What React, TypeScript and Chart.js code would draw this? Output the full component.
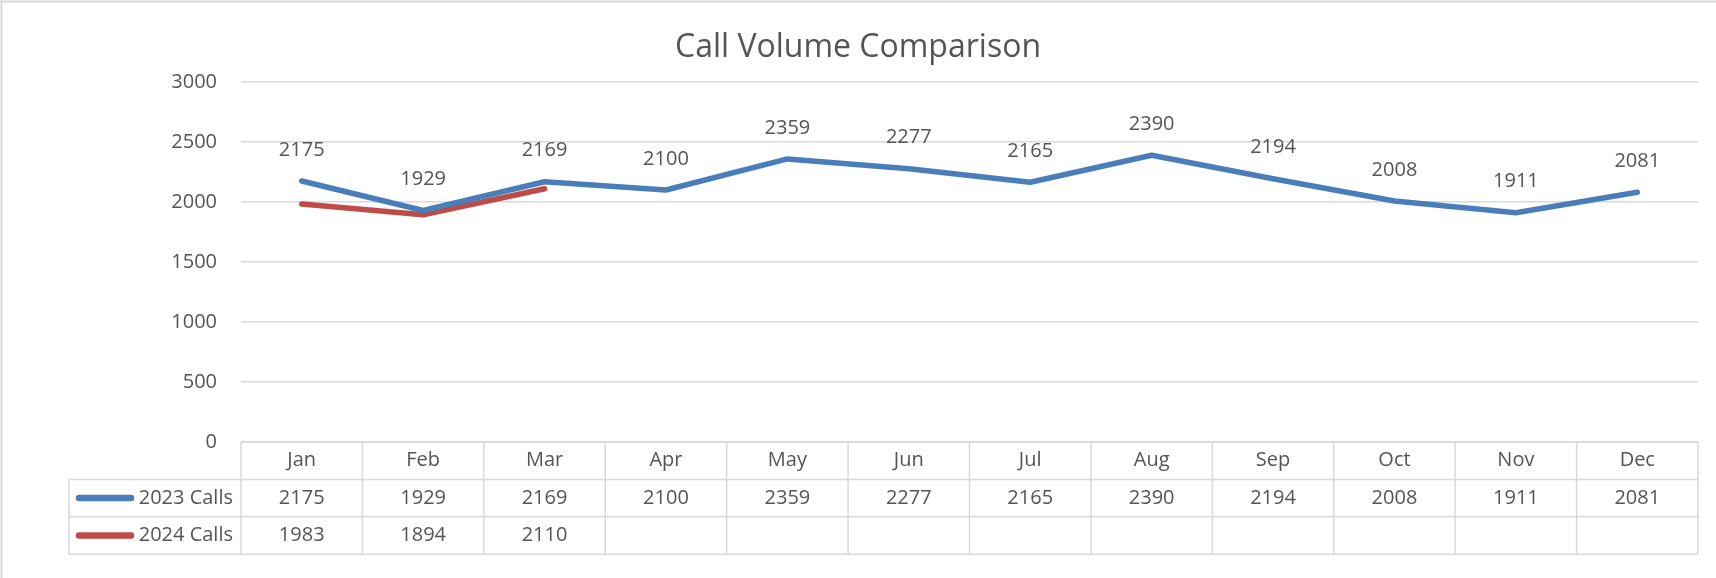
import React, { useEffect, useRef } from "react";
import { Chart, registerables } from "chart.js";

Chart.register(...registerables);

const months = ["Jan", "Feb", "Mar", "Apr", "May", "Jun", "Jul", "Aug", "Sep", "Oct", "Nov", "Dec"];
const calls2023 = [2175, 1929, 2169, 2100, 2359, 2277, 2165, 2390, 2194, 2008, 1911, 2081];
const calls2024 = [1983, 1894, 2110];
const seriesNames = ["2023 Calls", "2024 Calls"];
const yTicks = [0, 500, 1000, 1500, 2000, 2500, 3000];
const chartTitle = "Call Volume Comparison";

const BLUE = "#4A7EBB";
const RED = "#BE4B48";
const TEXT = "#555555";
const GRID = "#D9D9D9";
const FONT = "'Open Sans', 'Noto Sans', sans-serif";

export default function App() {
  const ref = useRef<HTMLCanvasElement | null>(null);

  useEffect(() => {
    document.body.style.margin = "0";
    const canvas = ref.current!;
    const W = 1716;
    const H = 578;

    const rowH = 37.4;
    const legendLeft = 69;

    const tablePlugin = {
      id: "tablePlugin",
      afterDraw(chart: any) {
        const ctx = chart.ctx as CanvasRenderingContext2D;
        const x = chart.scales.x;
        const area = chart.chartArea;
        const top = area.bottom;
        const n = months.length;
        const half = (x.getPixelForValue(1) - x.getPixelForValue(0)) / 2;
        const edges: number[] = [];
        for (let i = 0; i < n; i++) edges.push(x.getPixelForValue(i) - half);
        edges.push(x.getPixelForValue(n - 1) + half);
        const bottom = top + rowH * 3;

        ctx.save();
        // outer frame (top + left)
        ctx.strokeStyle = GRID;
        ctx.lineWidth = 2;
        ctx.beginPath();
        ctx.moveTo(0, 1.5);
        ctx.lineTo(W, 1.5);
        ctx.moveTo(1.5, 0);
        ctx.lineTo(1.5, H);
        ctx.stroke();

        ctx.lineWidth = 1.5;
        ctx.beginPath();
        ctx.moveTo(edges[0], top);
        ctx.lineTo(edges[n], top);
        for (let r = 1; r <= 3; r++) {
          const y = top + rowH * r;
          ctx.moveTo(legendLeft, y);
          ctx.lineTo(edges[n], y);
        }
        ctx.moveTo(legendLeft, top + rowH);
        ctx.lineTo(legendLeft, bottom);
        for (let i = 0; i <= n; i++) {
          ctx.moveTo(edges[i], top);
          ctx.lineTo(edges[i], bottom);
        }
        ctx.stroke();

        ctx.fillStyle = TEXT;
        ctx.font = `20px ${FONT}`;
        ctx.textAlign = "center";
        ctx.textBaseline = "middle";
        for (let i = 0; i < n; i++) {
          const cx = x.getPixelForValue(i);
          ctx.fillText(months[i], cx, top + rowH * 0.5);
          if (calls2023[i] !== undefined) ctx.fillText(String(calls2023[i]), cx, top + rowH * 1.5);
          if (calls2024[i] !== undefined) ctx.fillText(String(calls2024[i]), cx, top + rowH * 2.5);
        }
        const colors = [BLUE, RED];
        ctx.textAlign = "right";
        for (let s = 0; s < 2; s++) {
          const cy = top + rowH * (1.5 + s);
          ctx.strokeStyle = colors[s];
          ctx.lineWidth = 6.5;
          ctx.lineCap = "round";
          ctx.beginPath();
          ctx.moveTo(79, cy);
          ctx.lineTo(131, cy);
          ctx.stroke();
          ctx.fillText(seriesNames[s], edges[0] - 8, cy);
        }

        ctx.font = `32px ${FONT}`;
        ctx.textAlign = "center";
        ctx.textBaseline = "alphabetic";
        ctx.fillText(chartTitle, W / 2, 57);
        ctx.restore();
      },
    };

    const labelPlugin = {
      id: "labelPlugin",
      afterDatasetsDraw(chart: any) {
        const ctx = chart.ctx as CanvasRenderingContext2D;
        const meta = chart.getDatasetMeta(0);
        ctx.save();
        ctx.fillStyle = TEXT;
        ctx.font = `20px ${FONT}`;
        ctx.textAlign = "center";
        ctx.textBaseline = "middle";
        meta.data.forEach((pt: any, i: number) => {
          ctx.fillText(String(calls2023[i]), pt.x, pt.y - 31);
        });
        ctx.restore();
      },
    };

    const chart = new Chart(canvas, {
      type: "line",
      data: {
        labels: months,
        datasets: [
          {
            label: seriesNames[0],
            data: calls2023,
            borderColor: BLUE,
            backgroundColor: BLUE,
            borderWidth: 5.5,
            pointRadius: 0,
            tension: 0,
            borderCapStyle: "round",
            borderJoinStyle: "round",
          },
          {
            label: seriesNames[1],
            data: calls2024,
            borderColor: RED,
            backgroundColor: RED,
            borderWidth: 5.5,
            pointRadius: 0,
            tension: 0,
            borderCapStyle: "round",
            borderJoinStyle: "round",
          },
        ],
      },
      options: {
        responsive: false,
        animation: false,
        devicePixelRatio: 1,
        layout: { padding: { left: 0, right: 18, top: 82, bottom: H - 442 } },
        plugins: {
          legend: { display: false },
          title: { display: false },
          tooltip: { enabled: false },
        },
        scales: {
          x: {
            type: "category",
            display: false,
            offset: true,
          },
          y: {
            min: yTicks[0],
            max: yTicks[yTicks.length - 1],
            afterFit(scale: any) {
              scale.width = 241;
            },
            afterBuildTicks(scale: any) {
              scale.ticks = yTicks.map((v) => ({ value: v }));
            },
            border: { display: false },
            grid: { color: GRID, lineWidth: 1.5, drawTicks: false },
            ticks: {
              color: TEXT,
              font: { family: FONT, size: 20 },
              padding: 24,
              callback: (v: any) => String(v),
            },
          },
        },
      },
      plugins: [labelPlugin, tablePlugin],
    });

    return () => chart.destroy();
  }, []);

  return <canvas ref={ref} width={1716} height={578} style={{ display: "block" }} />;
}
